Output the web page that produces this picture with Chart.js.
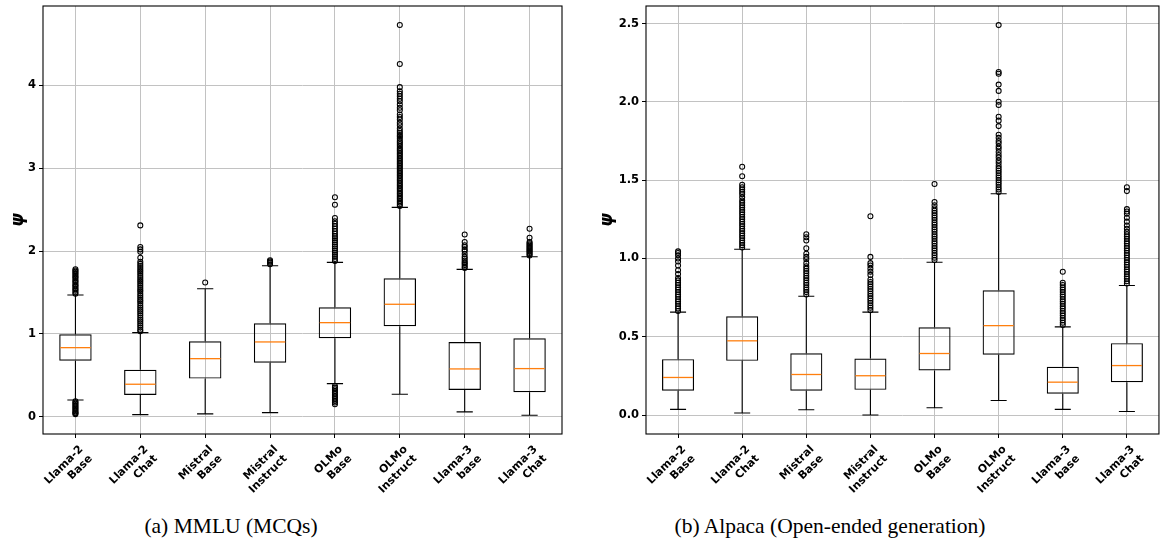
<!DOCTYPE html>
<html>
<head>
<meta charset="utf-8">
<script src="https://cdn.jsdelivr.net/npm/chart.js@4"></script>
<style>
  body { margin: 0; background: #fff; width: 1164px; height: 541px; position: relative; overflow: hidden; }
  canvas { position: absolute; top: 0; }
  #mmluChart { left: 0; }
  #alpacaChart { left: 580px; }
  .caption { position: absolute; top: 514px; width: 400px; text-align: center;
             font-family: 'Liberation Serif', serif; font-size: 21.5px; line-height: 24px; color: #000; }
</style>
</head>
<body>
<canvas id="mmluChart" width="580" height="505"></canvas>
<canvas id="alpacaChart" width="584" height="505"></canvas>
<div class="caption" style="left:31px">(a) MMLU (MCQs)</div>
<div class="caption" style="left:630px">(b) Alpaca (Open-ended generation)</div>

<script>
// categories, and the two-line tick labels shown for them
const models = ['Llama-2 Base', 'Llama-2 Chat', 'Mistral Base', 'Mistral Instruct',
                'OLMo Base', 'OLMo Instruct', 'Llama-3 base', 'Llama-3 Chat'];
const modelLines = [
    ['Llama-2', 'Base'], ['Llama-2', 'Chat'], ['Mistral', 'Base'], ['Mistral', 'Instruct'],
    ['OLMo', 'Base'], ['OLMo', 'Instruct'], ['Llama-3', 'base'], ['Llama-3', 'Chat']
];

// (a) MMLU box statistics
const mmluQ1  = [0.676, 0.262, 0.459, 0.652, 0.946, 1.091, 0.322, 0.294];
const mmluMed = [0.833, 0.391, 0.700, 0.902, 1.135, 1.357, 0.576, 0.580];
const mmluQ3  = [0.995, 0.567, 0.910, 1.127, 1.320, 1.670, 0.902, 0.946];
const mmluLo  = [0.200, 0.024, 0.033, 0.048, 0.398, 0.270, 0.057, 0.017];
const mmluHi  = [1.469, 1.014, 1.545, 1.823, 1.863, 2.527, 1.779, 1.931];
const mmluOut = [
    [0.03, 0.04, 0.05, 0.065, 0.08, 0.095, 0.11, 0.125, 0.14, 0.155, 0.17, 0.185,
     1.485, 1.50, 1.52, 1.535, 1.55, 1.57, 1.585, 1.60, 1.62, 1.635, 1.65, 1.67, 1.685, 1.70, 1.72, 1.735, 1.75, 1.765, 1.78],
    [1.03, 1.05, 1.075, 1.10, 1.125, 1.15, 1.17, 1.195, 1.22, 1.245, 1.27, 1.29, 1.315, 1.34, 1.365, 1.39, 1.41,
     1.435, 1.46, 1.485, 1.51, 1.53, 1.555, 1.58, 1.605, 1.63, 1.65, 1.675, 1.70, 1.725, 1.75, 1.77, 1.795, 1.82,
     1.845, 1.87, 1.92, 1.99, 2.02, 2.05, 2.31],
    [1.62],
    [1.84, 1.86, 1.875, 1.89],
    [0.15, 0.17, 0.19, 0.21, 0.23, 0.25, 0.27, 0.29, 0.31, 0.33, 0.35, 0.37,
     1.88, 1.905, 1.93, 1.955, 1.98, 2.005, 2.03, 2.055, 2.08, 2.105, 2.13, 2.155, 2.18, 2.21, 2.24, 2.27, 2.30, 2.33, 2.36, 2.40, 2.56, 2.65],
    [2.545, 2.565, 2.585, 2.605, 2.625, 2.645, 2.665, 2.685, 2.705, 2.725, 2.745, 2.765, 2.785, 2.805, 2.825, 2.845,
     2.865, 2.885, 2.905, 2.925, 2.945, 2.965, 2.985, 3.005, 3.025, 3.045, 3.065, 3.085, 3.105, 3.125, 3.145, 3.165,
     3.185, 3.205, 3.225, 3.245, 3.27, 3.29, 3.31, 3.33, 3.355, 3.38, 3.40, 3.425, 3.45, 3.48, 3.52, 3.55, 3.59,
     3.62, 3.65, 3.70, 3.73, 3.77, 3.81, 3.84, 3.87, 3.90, 3.93, 3.98, 4.26, 4.73],
    [1.795, 1.81, 1.83, 1.85, 1.865, 1.885, 1.91, 1.93, 1.965, 2.00, 2.02, 2.05, 2.07, 2.11, 2.20],
    [1.945, 1.96, 1.975, 1.99, 2.005, 2.02, 2.035, 2.05, 2.065, 2.08, 2.095, 2.11, 2.16, 2.27]
];
const mmluTicks = [0, 1, 2, 3, 4];
const mmluTickLabels = ['0', '1', '2', '3', '4'];

// (b) Alpaca box statistics
const alpacaQ1  = [0.155, 0.346, 0.155, 0.161, 0.285, 0.385, 0.136, 0.210];
const alpacaMed = [0.240, 0.474, 0.259, 0.251, 0.393, 0.571, 0.210, 0.316];
const alpacaQ3  = [0.357, 0.631, 0.395, 0.361, 0.561, 0.797, 0.308, 0.459];
const alpacaLo  = [0.036, 0.013, 0.034, 0.000, 0.047, 0.093, 0.036, 0.023];
const alpacaHi  = [0.657, 1.059, 0.759, 0.657, 0.976, 1.413, 0.563, 0.827];
const alpacaOut = [
    [0.665, 0.68, 0.695, 0.71, 0.725, 0.74, 0.755, 0.77, 0.785, 0.80, 0.815, 0.83, 0.845, 0.86, 0.875,
     0.90, 0.925, 0.955, 0.98, 1.00, 1.02, 1.035, 1.045],
    [1.07, 1.085, 1.10, 1.115, 1.13, 1.145, 1.16, 1.175, 1.19, 1.205, 1.22, 1.235, 1.25, 1.265, 1.28, 1.295,
     1.31, 1.325, 1.34, 1.355, 1.37, 1.39, 1.41, 1.425, 1.44, 1.455, 1.47, 1.525, 1.585],
    [0.77, 0.785, 0.80, 0.815, 0.83, 0.845, 0.86, 0.875, 0.89, 0.905, 0.92, 0.935, 0.95, 0.97, 0.995, 1.01,
     1.03, 1.065, 1.115, 1.135, 1.155],
    [0.67, 0.685, 0.70, 0.715, 0.73, 0.745, 0.76, 0.775, 0.79, 0.805, 0.82, 0.835, 0.85, 0.865, 0.895, 0.915,
     0.935, 0.955, 0.97, 1.01, 1.27],
    [0.99, 1.005, 1.02, 1.035, 1.05, 1.065, 1.08, 1.095, 1.11, 1.125, 1.14, 1.155, 1.17, 1.185, 1.20, 1.215,
     1.23, 1.245, 1.26, 1.275, 1.29, 1.305, 1.32, 1.34, 1.36, 1.475],
    [1.425, 1.44, 1.455, 1.47, 1.485, 1.50, 1.515, 1.53, 1.545, 1.56, 1.575, 1.59, 1.61, 1.625, 1.645, 1.66,
     1.68, 1.70, 1.715, 1.735, 1.75, 1.77, 1.79, 1.845, 1.88, 1.905, 1.98, 2.00, 2.07, 2.11, 2.18, 2.19, 2.49],
    [0.575, 0.59, 0.605, 0.62, 0.635, 0.65, 0.665, 0.68, 0.695, 0.71, 0.725, 0.74, 0.755, 0.77, 0.785, 0.80,
     0.815, 0.83, 0.845, 0.915],
    [0.84, 0.855, 0.87, 0.885, 0.90, 0.915, 0.93, 0.945, 0.96, 0.975, 0.99, 1.005, 1.02, 1.035, 1.05, 1.065,
     1.08, 1.095, 1.11, 1.125, 1.14, 1.155, 1.17, 1.19, 1.21, 1.235, 1.26, 1.285, 1.30, 1.315, 1.43, 1.455]
];
const alpacaTicks = [0.0, 0.5, 1.0, 1.5, 2.0, 2.5];
const alpacaTickLabels = ['0.0', '0.5', '1.0', '1.5', '2.0', '2.5'];

const gridColor = '#c2c2c2';
const tickFont = { family: 'DejaVu Sans', weight: 'bold', size: 11.5 };
const catFont = { family: 'DejaVu Sans', weight: 'bold', size: 11 };

// whiskers, caps, medians and the axes frame
const boxPlugin = {
    id: 'boxParts',
    beforeDatasetsDraw(chart, args, opts) {
        const { ctx, scales: { x, y } } = chart;
        const capHalf = (x.getPixelForValue(1) - x.getPixelForValue(0)) * 0.125;
        ctx.save();
        ctx.strokeStyle = '#000';
        ctx.lineWidth = 1.1;
        opts.lo.forEach((lo, i) => {
            const cx = x.getPixelForValue(i);
            const yLo = y.getPixelForValue(lo), yHi = y.getPixelForValue(opts.hi[i]);
            ctx.beginPath();
            ctx.moveTo(cx, y.getPixelForValue(opts.q1[i])); ctx.lineTo(cx, yLo);
            ctx.moveTo(cx, y.getPixelForValue(opts.q3[i])); ctx.lineTo(cx, yHi);
            ctx.moveTo(cx - capHalf, yLo); ctx.lineTo(cx + capHalf, yLo);
            ctx.moveTo(cx - capHalf, yHi); ctx.lineTo(cx + capHalf, yHi);
            ctx.stroke();
        });
        ctx.restore();
    },
    afterDatasetsDraw(chart, args, opts) {
        const { ctx, scales: { x, y } } = chart;
        const boxHalf = (x.getPixelForValue(1) - x.getPixelForValue(0)) * 0.25;
        ctx.save();
        ctx.strokeStyle = '#ff7f0e';
        ctx.lineWidth = 1.3;
        opts.med.forEach((m, i) => {
            const cx = x.getPixelForValue(i), py = y.getPixelForValue(m);
            ctx.beginPath();
            ctx.moveTo(cx - boxHalf + 1, py); ctx.lineTo(cx + boxHalf - 1, py);
            ctx.stroke();
        });
        ctx.restore();
    },
    afterDraw(chart) {
        const { ctx, chartArea: a } = chart;
        ctx.save();
        ctx.strokeStyle = '#000';
        ctx.lineWidth = 1.1;
        ctx.strokeRect(a.left, a.top, a.right - a.left, a.bottom - a.top);
        ctx.restore();
    }
};

function makeBoxChart(id, s) {
    const points = [];
    s.out.forEach((vals, i) => vals.forEach(v => points.push({ x: models[i], y: v })));

    return new Chart(document.getElementById(id), {
        type: 'bar',
        data: {
            labels: models,
            datasets: [{
                type: 'bar',
                data: s.q1.map((v, i) => [v, s.q3[i]]),
                backgroundColor: 'rgba(0,0,0,0)',
                borderColor: '#000',
                borderWidth: 1.2,
                borderSkipped: false,
                grouped: false,
                barPercentage: 0.5,
                categoryPercentage: 1
            }, {
                type: 'line',
                data: points,
                showLine: false,
                pointStyle: 'circle',
                pointRadius: 2.5,
                pointBorderWidth: 1.05,
                pointBorderColor: '#000',
                pointBackgroundColor: 'rgba(0,0,0,0)'
            }]
        },
        plugins: [boxPlugin],
        options: {
            responsive: false,
            animation: false,
            layout: { padding: { top: 6, right: s.padRight, left: 0, bottom: 0 } },
            plugins: {
                legend: { display: false },
                tooltip: { enabled: false },
                boxParts: { q1: s.q1, q3: s.q3, med: s.med, lo: s.lo, hi: s.hi }
            },
            scales: {
                x: {
                    offset: true,
                    border: { display: false },
                    grid: { offset: false, color: gridColor, lineWidth: 1, tickColor: '#000', tickLength: 4 },
                    ticks: {
                        font: catFont, color: '#000', minRotation: 45, maxRotation: 45, autoSkip: false,
                        padding: 5, labelOffset: 6,
                        callback: (v, i) => modelLines[i]
                    },
                    afterFit(scale) { scale.height = 71; scale.paddingLeft = 0; scale.paddingRight = 0; }
                },
                y: {
                    min: s.yMin,
                    max: s.yMax,
                    border: { display: false },
                    grid: { color: gridColor, lineWidth: 1, tickColor: '#000', tickLength: 4 },
                    ticks: { font: tickFont, color: '#000', padding: 3, callback: (v, i) => s.tickLabels[i] },
                    afterBuildTicks(scale) { scale.ticks = s.ticks.map(v => ({ value: v })); },
                    afterFit(scale) { scale.width = s.axisWidth; scale.paddingTop = 0; scale.paddingBottom = 0; },
                    title: {
                        display: true,
                        text: 'ψ',
                        color: '#000',
                        font: { family: 'DejaVu Sans', style: 'italic', weight: 'bold', size: 17 },
                        padding: { top: s.titlePad, bottom: 0 }
                    }
                }
            }
        }
    });
}

makeBoxChart('mmluChart', {
    q1: mmluQ1, med: mmluMed, q3: mmluQ3, lo: mmluLo, hi: mmluHi, out: mmluOut,
    yMin: -0.21, yMax: 4.96, ticks: mmluTicks, tickLabels: mmluTickLabels,
    axisWidth: 43, titlePad: 8, padRight: 18
});

makeBoxChart('alpacaChart', {
    q1: alpacaQ1, med: alpacaMed, q3: alpacaQ3, lo: alpacaLo, hi: alpacaHi, out: alpacaOut,
    yMin: -0.121, yMax: 2.612, ticks: alpacaTicks, tickLabels: alpacaTickLabels,
    axisWidth: 66, titlePad: 17, padRight: 1
});
</script>
</body>
</html>
